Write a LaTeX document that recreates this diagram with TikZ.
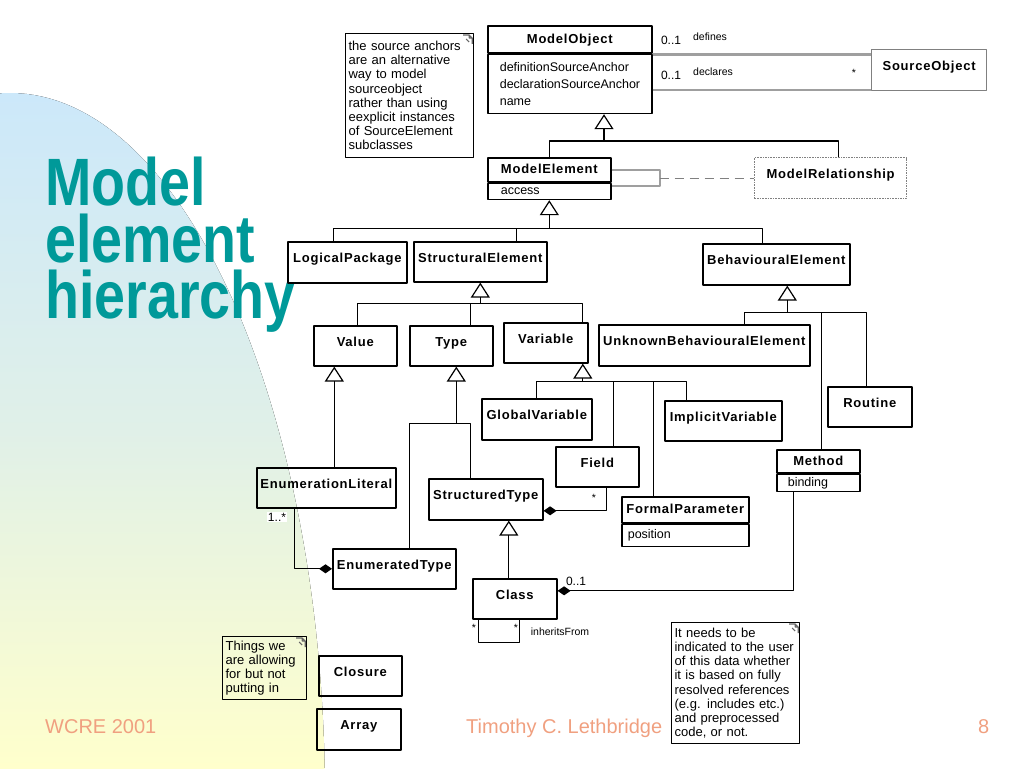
\documentclass[tikz,border=0pt]{standalone}
\usepackage{fontspec}
\setmainfont{Liberation Sans}
\newfontfamily\clsfont[LetterSpace=6]{Liberation Sans}
\newfontfamily\titlefont[FakeStretch=0.83]{Liberation Sans}
\usetikzlibrary{arrows.meta,positioning}
\definecolor{titleteal}{RGB}{0,153,153}
\definecolor{footer}{RGB}{240,160,128}
\definecolor{bgblue}{RGB}{204,232,250}
\definecolor{bgmint}{RGB}{224,240,232}
\definecolor{bgyellow}{RGB}{255,255,204}
\hyphenpenalty=10000
\begin{document}
\begin{tikzpicture}[x=1pt, y=-1pt, line join=round,%Model element hierarchy
		cls/.style 2 args={draw, line width=1.6pt, anchor=north west, inner sep=0pt, minimum width=#1pt, minimum height=#2pt, text height=9.5pt, text depth=9pt, font=\clsfont\bfseries\fontsize{13}{15}\selectfont},
		attr/.style={draw, line width=1.6pt, align=left, inner ysep=0pt, font=\fontsize{12.5}{17}\selectfont},
		note/.style={draw, line width=1.2pt, anchor=north west, align=left, inner sep=3pt, font=\fontsize{13}{14.2}\selectfont},
		wire/.style={line width=1.2pt},
		gen/.style={wire, -{Triangle[open, length=15pt, width=19pt]}},
		comp/.style={wire, -{Diamond[length=13pt, width=9pt]}},
		link/.style={draw=gray!75, line width=2.2pt},
		mult/.style={inner sep=1pt, font=\fontsize{12}{14}\selectfont},
		role/.style={inner sep=1pt, font=\fontsize{10.5}{12}\selectfont},
		title/.style={anchor=base west, inner sep=0pt, text height=48pt, text depth=0pt, text=titleteal, font=\titlefont\bfseries\fontsize{67}{67}\selectfont},
		foot/.style={anchor=base west, inner sep=0pt, text=footer, font=\fontsize{20}{24}\selectfont}]
	\useasboundingbox (0,0) rectangle (1024,768);
	\begin{scope}
		\clip (10,800) ellipse [x radius=315, y radius=707];
		\fill[top color=bgblue, bottom color=bgyellow, middle color=bgmint] (0,93) rectangle (330,768);
	\end{scope}
	\foreach \w/\y in {Model/205,element/262,hierarchy/318}
	\node[title] (t-\w) at (45,\y) {\w};
	\node[foot] (venue) at (45,733) {WCRE 2001};
	\node[foot] (speaker) at (466,733) {Timothy C. Lethbridge};
	\node[foot] (page) at (978,733) {8};
	% classes
	\node[cls={164}{27}, text depth=2pt] (mo) at (487,25) {ModelObject};
	\node[attr, below=0pt of mo, inner xsep=12pt, text width=140pt, minimum height=59pt] (mo-a) {definitionSourceAnchor\\declarationSourceAnchor\\name};
	\node[cls={115}{41}, draw=gray, line width=1.2pt] (so) at (871,49) {SourceObject};
	\node[cls={123}{24}, text depth=2pt] (me) at (487,157) {ModelElement};
	\node[attr, below=0pt of me, inner xsep=13pt, text width=97pt, minimum height=16pt] (me-a) {access};
	\node[cls={152}{41}, draw=gray, densely dotted, line width=1.2pt] (mr) at (754,157) {ModelRelationship};
	\node[cls={119}{41}] (lp) at (287,241) {LogicalPackage};
	\node[cls={133}{40}] (se) at (413,241) {StructuralElement};
	\node[cls={147}{41}] (be) at (702,243) {BehaviouralElement};
	\node[cls={83}{40}] (val) at (313,325) {Value};
	\node[cls={83}{40}] (typ) at (409,325) {Type};
	\node[cls={84}{40}] (var) at (503,322) {Variable};
	\node[cls={211}{41}] (ube) at (598,324) {UnknownBehaviouralElement};
	\node[cls={84}{40}] (rou) at (827,386) {Routine};
	\node[cls={110}{41}] (gv) at (481,398) {GlobalVariable};
	\node[cls={117}{40}] (iv) at (664,400) {ImplicitVariable};
	\node[cls={83}{40}] (fld) at (555,446) {Field};
	\node[cls={83}{23}, text depth=2pt] (met) at (776,449) {Method};
	\node[attr, below=0pt of met, inner xsep=11pt, text width=61pt, minimum height=17pt] (met-a) {binding};
	\node[cls={139}{40}] (el) at (256,467) {EnumerationLiteral};
	\node[cls={114}{41}] (st) at (428,478) {StructuredType};
	\node[cls={127}{26}, text depth=2pt] (fp) at (621,496) {FormalParameter};
	\node[attr, below=0pt of fp, inner xsep=6pt, text width=115pt, minimum height=22pt] (fp-a) {position};
	\node[cls={123}{40}] (et) at (332,548) {EnumeratedType};
	\node[cls={84}{40}] (cl) at (472,578) {Class};
	\node[cls={83}{40}] (clo) at (318,655) {Closure};
	\node[cls={84}{41}] (arr) at (316,708) {Array};
	% notes
	\node[note, text width=122pt, minimum height=124pt] (srcnote) at (345,33) {the source anchors\\are an alternative\\way to model\\sourceobject\\rather than using\\eexplicit instances\\of SourceElement\\subclasses};
	\node[note, text width=78pt, minimum height=63pt] (thingsnote) at (222,636) {Things we\\are allowing\\for but not\\putting in};
	\node[note, text width=122pt, minimum height=121pt] (usernote) at (671,622) {It needs to be\\indicated to the user\\of this data whether\\it is based on fully\\resolved references\\(e.g. includes etc.)\\and preprocessed\\code, or not.};
	\foreach \n in {srcnote,thingsnote,usernote}
	\draw[gray!80!black, line width=1.1pt, shift={(\n.north east)}] (-11,2)--(-5,2)--(-2,5)--(-2,11) (-5,2)--(-5,5)--(-2,5) (-8,6)--(-5,9);
	% associations
	\path ([yshift=-1pt]mo.south east) coordinate (mo-def) ([yshift=-6pt]mo-a.east) coordinate (mo-decl);
	\draw[link] (mo-def) -- (mo-def -| so.west);
	\draw[link] (mo-decl) -- (mo-decl -| so.west);
	\node[mult] (def-m) at (671,40) {0..1};
	\node[role] (def-r) at (710,37) {defines};
	\node[mult] (decl-m) at (671,75) {0..1};
	\node[role] (decl-r) at (713,72) {declares};
	\node[role] (decl-s) at (854,73) {*};
	\draw[link, line width=2pt] (me.east) -- ++(48,0) coordinate (me-k) |- ([yshift=-3pt]me.south east);
	\draw[wire, gray, dash pattern=on 9pt off 6pt] (me-k |- mr.west) -- (mr.west);
	% generalisations
	\coordinate (j1) at (604,141);
	\draw[gen] (j1) -- (j1 |- mo-a.south);
	\draw[wire] (me.north) |- (j1) -| ([xshift=8pt]mr.north);
	\path (me-a.south) ++(0,28) coordinate (j2);
	\draw[gen] (j2) -- (me-a.south);
	\foreach \c/\dx in {lp/-14pt,se/36pt,be/-14pt}
	\draw[wire] ([xshift=\dx]\c.north) |- (j2);
	\path (se.south) ++(0,21) coordinate (j3);
	\draw[gen] (j3) -- (se.south);
	\foreach \c/\dx in {val/2pt,typ/19pt,var/37pt}
	\draw[wire] ([xshift=\dx]\c.north) |- (j3);
	\path ([xshift=11pt]be.south) coordinate (be-t) ++(0,27) coordinate (j4);
	\draw[gen] (j4) -- (be-t);
	\foreach \c/\dx in {ube/40pt,met/3pt,rou/-3pt}
	\draw[wire] ([xshift=\dx]\c.north) |- (j4);
	\path ([xshift=37pt]var.south) coordinate (var-t) ++(0,18) coordinate (j5);
	\draw[gen] (j5) -- (var-t);
	\foreach \c/\dx in {gv/0pt,fld/16pt,fp/-32pt,iv/-37pt}
	\draw[wire] ([xshift=\dx]\c.north) |- (j5);
	\path ([xshift=8pt]el.north) coordinate (el-t);
	\draw[gen] (el-t) -- (el-t |- val.south);
	\path ([xshift=5pt]typ.south) coordinate (typ-t) ++(0,57) coordinate (j7);
	\draw[gen] (j7) -- (typ-t);
	\foreach \c/\dx in {et/15pt,st/-15pt}
	\draw[wire] ([xshift=\dx]\c.north) |- (j7);
	\path ([xshift=-6pt]cl.north) coordinate (cl-t);
	\draw[gen] (cl-t) -- (cl-t |- st.south);
	% compositions
	\path ([yshift=-11.5pt]st.east) coordinate (st-d) ([yshift=8pt]cl.east) coordinate (cl-d);
	\draw[comp] ([xshift=-32pt]el.south) |- (et.west);
	\draw[comp] ([xshift=9pt]fld.south) |- (st-d);
	\draw[comp] ([xshift=-25pt]met-a.south) |- (cl-d);
	\draw[wire] ([xshift=-36pt]cl.south) -- ++(0,23) -| ([xshift=5pt]cl.south);
	\node[mult, fill=white] (lit-m) at (277,517) {1..*};
	\node[role] (fld-m) at (594,498) {*};
	\node[mult] (met-m) at (576,581) {0..1};
	\node[role] (inh-a) at (474,628) {*};
	\node[role] (inh-b) at (516,628) {*};
	\node[role] (inh-r) at (560,632) {inheritsFrom};
\end{tikzpicture}
\end{document}
